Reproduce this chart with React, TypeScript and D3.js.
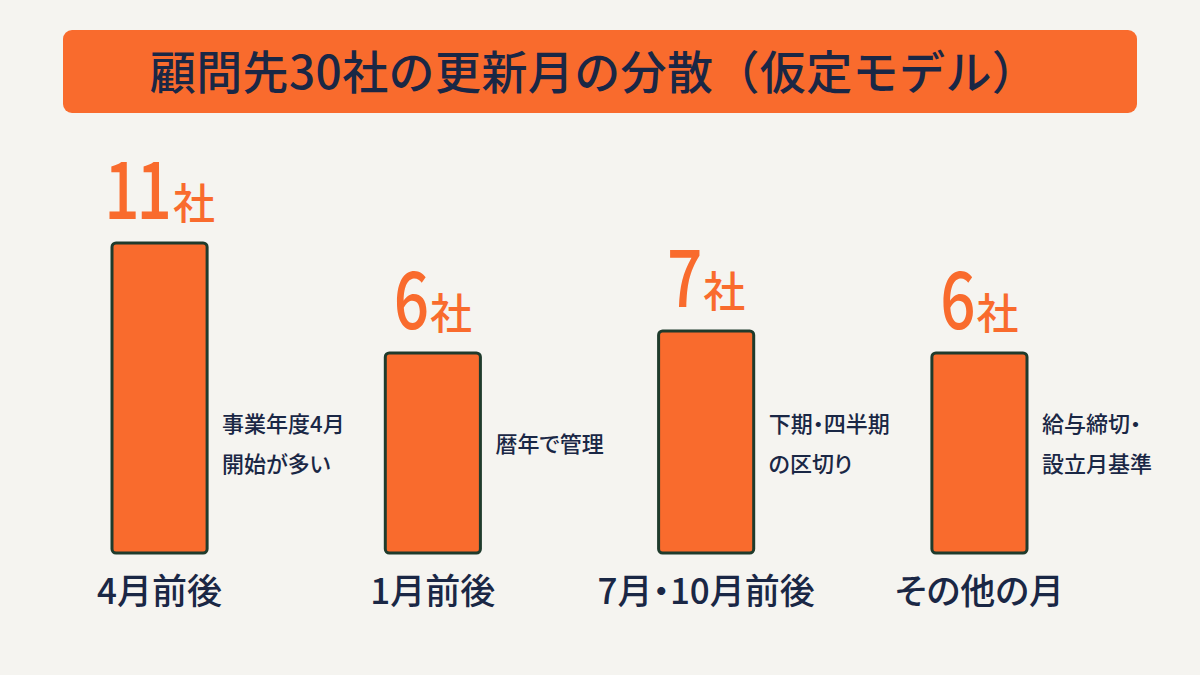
import { useEffect, useRef } from "react";
import * as d3 from "d3";

const TITLE = "顧問先30社の更新月の分散（仮定モデル）";
const CATEGORIES = ["4月前後", "1月前後", "7月・10月前後", "その他の月"];
const COUNTS = [11, 6, 7, 6];
const UNIT = "社";
const NOTES = [
  ["事業年度4月", "開始が多い"],
  ["暦年で管理"],
  ["下期・四半期", "の区切り"],
  ["給与締切・", "設立月基準"],
];

const W = 1200;
const H = 675;
const ORANGE = "#f96b2d";
const NAVY = "#1a2745";
const EDGE = "#1f3b2c";
const FONT = "'Noto Sans CJK JP', 'Noto Sans', sans-serif";

export default function App() {
  const svgRef = useRef<SVGSVGElement | null>(null);

  useEffect(() => {
    const svg = d3.select(svgRef.current);
    svg.selectAll("*").remove();

    svg.append("rect").attr("width", W).attr("height", H).attr("fill", "#f5f4f0");

    // title banner
    svg
      .append("rect")
      .attr("x", 63)
      .attr("y", 30)
      .attr("width", 1074)
      .attr("height", 83)
      .attr("rx", 9)
      .attr("fill", ORANGE);
    svg
      .append("text")
      .attr("x", 594)
      .attr("y", 89)
      .attr("text-anchor", "middle")
      .attr("font-family", FONT)
      .attr("font-weight", 500)
      .attr("font-size", 46)
      .attr("fill", NAVY)
      .attr("letter-spacing", 0.4)
      .text(TITLE);

    const x = d3
      .scaleBand<string>()
      .domain(CATEGORIES)
      .range([112, 1027])
      .paddingInner(0.652)
      .paddingOuter(0);

    // bars are not drawn from zero in the source picture; offset domain mimics it
    const y = d3.scaleLinear().domain([-3.1, 11]).range([553, 243]);
    const base = y(-3.1);

    const g = svg.append("g");
    CATEGORIES.forEach((cat, i) => {
      const bx = x(cat) ?? 0;
      const bw = x.bandwidth();
      const top = y(COUNTS[i]);
      const cx = bx + bw / 2;

      g.append("rect")
        .attr("x", bx)
        .attr("y", top)
        .attr("width", bw)
        .attr("height", base - top)
        .attr("rx", 4)
        .attr("fill", ORANGE)
        .attr("stroke", EDGE)
        .attr("stroke-width", 3);

      // value label: tall digits + smaller unit, centred over the bar
      const lg = g.append("g");
      const num = lg
        .append("text")
        .attr("font-family", FONT)
        .attr("font-weight", 500)
        .attr("font-size", 62)
        .attr("letter-spacing", -3)
        .attr("fill", ORANGE)
        .attr("transform", "scale(1,1.28)")
        .text(String(COUNTS[i]));
      const unit = lg
        .append("text")
        .attr("font-family", FONT)
        .attr("font-weight", 500)
        .attr("font-size", 42)
        .attr("fill", ORANGE)
        .text(UNIT);
      const nw = (num.node() as SVGTextElement).getComputedTextLength();
      const uw = (unit.node() as SVGTextElement).getComputedTextLength();
      const gap = 4;
      unit.attr("x", nw + gap);
      lg.attr("transform", `translate(${cx - (nw + gap + uw) / 2},${top - 24})`);

      g.append("text")
        .attr("x", cx)
        .attr("y", 604)
        .attr("text-anchor", "middle")
        .attr("font-family", FONT)
        .attr("font-weight", 500)
        .attr("font-size", 35)
        .attr("fill", NAVY)
        .style("font-feature-settings", "'palt'")
        .text(cat);

      const lines = NOTES[i];
      const lineH = 40;
      const y0 = 452 - ((lines.length - 1) * lineH) / 2;
      lines.forEach((ln, j) => {
        g.append("text")
          .attr("x", bx + bw + 15)
          .attr("y", y0 + j * lineH)
          .attr("font-family", FONT)
          .attr("font-weight", 500)
          .attr("font-size", 22)
          .attr("fill", NAVY)
          .style("font-feature-settings", "'palt'")
          .text(ln);
      });
    });
  }, []);

  return (
    <svg
      ref={svgRef}
      width={W}
      height={H}
      viewBox={`0 0 ${W} ${H}`}
      style={{ display: "block", position: "absolute", left: 0, top: 0 }}
    />
  );
}
